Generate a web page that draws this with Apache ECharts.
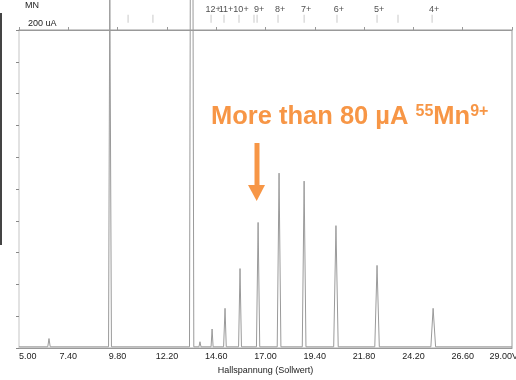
<!DOCTYPE html>
<html>
<head>
<meta charset="utf-8">
<script src="https://cdn.jsdelivr.net/npm/echarts@6/dist/echarts.min.js"></script>
<style>
  html, body { margin: 0; padding: 0; background: #fff; }
  #chart { width: 516px; height: 380px; }
</style>
</head>
<body>
<div id="chart"></div>
<script>
// spectrum trace (x in V, y in uA)
const traceX = [5.00, 6.40, 6.46, 6.52, 9.36, 9.42, 9.46, 9.50, 13.30, 13.34, 13.47, 13.51,
  13.76, 13.81, 13.86, 14.35, 14.40, 14.45, 14.96, 15.03, 15.09, 15.69, 15.76, 15.83,
  16.56, 16.64, 16.72, 17.57, 17.66, 17.75, 18.79, 18.88, 18.97, 20.32, 20.43, 20.54,
  22.32, 22.43, 22.54, 25.05, 25.16, 25.28, 29.00];
const traceY = [0.8, 0.8, 6, 0.8, 0.8, 230, 230, 0.8, 0.8, 230, 230, 0.8,
  0.8, 4, 0.8, 0.8, 12, 0.8, 0.8, 25, 0.8, 0.8, 50, 0.8,
  0.8, 79, 0.8, 0.8, 110, 0.8, 0.8, 105, 0.8, 0.8, 77, 0.8,
  0.8, 52, 0.8, 0.8, 25, 0.8, 0.8];

// charge state markers along the top
const chargeX = [10.31, 11.52, 14.35, 14.98, 15.71, 16.44, 16.59, 17.61, 18.88, 20.48, 22.43, 23.45, 25.11];
const chargeLabels = ["", "", "12+", "11+", "10+", "", "9+", "8+", "7+", "6+", "5+", "", "4+"];

const xMin = 5, xMax = 29, xStep = 2.4;
const yMin = 0, yMax = 200, yStep = 20;

const font = "Liberation Sans, Arial, sans-serif";
const orange = "#F79646";

const chart = echarts.init(document.getElementById("chart"));
chart.setOption({
  animation: false,
  grid: {
    left: 19,
    right: 4,
    top: 30,
    bottom: 30,
    show: true,
    borderColor: "#999",
    borderWidth: 1,
  },
  xAxis: [
    {
      type: "value",
      min: xMin,
      max: xMax,
      interval: xStep,
      name: "Hallspannung (Sollwert)",
      nameLocation: "middle",
      nameGap: 17,
      nameTextStyle: { fontSize: 9, color: "#222", fontFamily: font },
      axisLine: { lineStyle: { color: "#999" } },
      axisTick: { show: false },
      splitLine: { show: false },
      axisLabel: {
        fontSize: 9,
        color: "#222",
        fontFamily: font,
        margin: 4,
        alignMinLabel: "left",
        alignMaxLabel: "right",
        formatter: (v) => v.toFixed(2),
      },
    },
    {
      type: "value",
      position: "top",
      min: xMin,
      max: xMax,
      interval: xStep,
      axisLine: { lineStyle: { color: "#999" } },
      axisTick: { length: 3, lineStyle: { color: "#999" } },
      axisLabel: { show: false },
      splitLine: { show: false },
    },
  ],
  yAxis: {
    type: "value",
    min: yMin,
    max: yMax,
    interval: yStep,
    name: "200 uA",
    nameLocation: "end",
    nameGap: 2,
    nameTextStyle: {
      fontSize: 9,
      color: "#222",
      fontFamily: font,
      align: "left",
      verticalAlign: "bottom",
      padding: [0, 0, 0, 9],
    },
    axisLine: { show: true, lineStyle: { color: "#e2e2e2", width: 2 } },
    axisTick: { show: true, length: 3, lineStyle: { color: "#888" } },
    axisLabel: { show: false },
    splitLine: { show: false },
  },
  series: [
    {
      type: "line",
      data: traceX.map((x, i) => [x, traceY[i]]),
      symbol: "none",
      clip: false,
      lineStyle: { color: "#9a9a9a", width: 1 },
    },
    {
      type: "scatter",
      clip: false,
      symbol: "rect",
      symbolSize: [1, 8],
      itemStyle: { color: "#bbb" },
      data: chargeX.map((x, i) => ({ name: chargeLabels[i], value: [x, 207] })),
      label: {
        show: true,
        position: "top",
        distance: 1,
        offset: [2, 0],
        fontSize: 9,
        color: "#222",
        fontFamily: font,
        formatter: (p) => p.name,
      },
    },
  ],
  graphic: [
    { type: "rect", shape: { x: 0, y: 13, width: 2, height: 232 }, style: { fill: "#444" } },
    { type: "text", style: { x: 25, y: 1, text: "MN", fill: "#222", font: "9px " + font } },
    { type: "text", style: { x: 512, y: 352, text: "V", fill: "#222", font: "9px " + font } },
    {
      type: "text",
      left: 211,
      top: 104,
      style: {
        text: "{a|More than 80 µA }{s|55}{a|Mn}{s|9+}",
        rich: {
          a: { fontSize: 25.5, fontWeight: "bold", fill: orange, fontFamily: font },
          s: { fontSize: 16, fontWeight: "bold", fill: orange, fontFamily: font, verticalAlign: "top" },
        },
      },
    },
    { type: "rect", shape: { x: 254.5, y: 143, width: 5, height: 43 }, style: { fill: orange } },
    {
      type: "polygon",
      shape: { points: [[248, 185], [265, 185], [256.7, 201]] },
      style: { fill: orange },
    },
  ],
});
</script>
</body>
</html>
